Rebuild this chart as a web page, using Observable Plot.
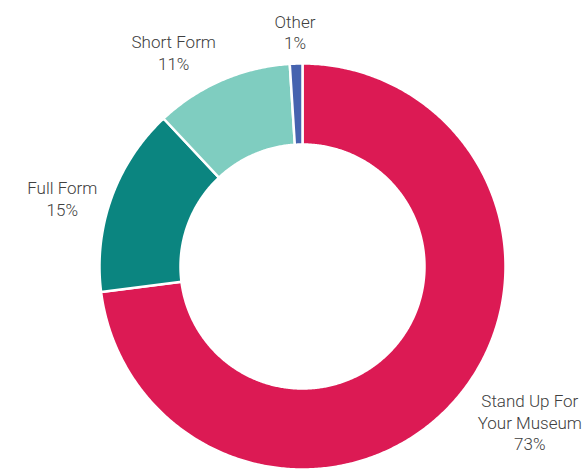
<!DOCTYPE html>
<html><head><meta charset="utf-8">
<script src="https://cdn.jsdelivr.net/npm/d3@7"></script>
<script src="https://cdn.jsdelivr.net/npm/@observablehq/plot@0.6"></script>
<style>html,body{margin:0;padding:0;background:#fff}</style>
</head><body><div id="chart"></div>
<script>
// ---- data ----
const categories = ["Stand Up For Your Museum", "Full Form", "Short Form", "Other"];
const labelLines = [["Stand Up For", "Your Museum"], ["Full Form"], ["Short Form"], ["Other"]];
const values = [73, 15, 11, 1];
const colors = ["#DC1A54", "#0B8580", "#7FCDC0", "#4663AF"];

// ---- layout ----
const W = 586, H = 470;
const cx = 302, cy = 266;      // donut centre in px
const R = 203, r0 = 122;       // outer / inner radius
const fontSize = 17, lineH = 21.5;
const fontFamily = "Roboto, 'Open Sans', sans-serif";
const fontWeight = 300;

const total = d3.sum(values);
const pie = d3.pie().sort(null).value(d => d)(values);

// slice polygons
const pts = [];
pie.forEach((p, i) => {
  const a0 = p.startAngle, a1 = p.endAngle;
  const n = Math.max(2, Math.ceil((a1 - a0) / (Math.PI / 360)));
  for (let k = 0; k <= n; k++) {
    const a = a0 + (a1 - a0) * k / n;
    pts.push({cat: categories[i], x: R * Math.sin(a), y: -R * Math.cos(a)});
  }
  for (let k = n; k >= 0; k--) {
    const a = a0 + (a1 - a0) * k / n;
    pts.push({cat: categories[i], x: r0 * Math.sin(a), y: -r0 * Math.cos(a)});
  }
});

// measure text
const ctx = document.createElement("canvas").getContext("2d");
ctx.font = `${fontWeight} ${fontSize}px ${fontFamily}`;

// labels placed just outside the ring at each slice's mid angle, slid along the ring to fit
const margin = 16;
const labels = pie.map((p, i) => {
  const mid = (p.startAngle + p.endAngle) / 2;
  const pct = Math.round(values[i] / total * 100) + "%";
  const lines = [...labelLines[i], pct];
  const w = d3.max(lines, s => ctx.measureText(s).width);
  const h = lines.length * lineH;
  const g = R + 15;
  const place = a => {
    const s = Math.sin(a), c = Math.cos(a);
    const x = g * s + (Math.abs(s) > 0.15 ? Math.sign(s) * w / 2 : s * w / 2);
    const y = -g * c - 0.8 * h / 2 * Math.max(-1, Math.min(1, 2 * c - 1));
    return {x, y};
  };
  const fits = ({x, y}) => x - w / 2 >= -cx && x + w / 2 <= W - cx &&
    y - h / 2 >= -cy + 2 && y + h / 2 <= H - cy - margin;
  let best = place(mid);
  if (!fits(best)) {
    for (let d = 0.005; d < 0.6; d += 0.005) {
      const a = place(mid - d), b = place(mid + d);
      if (fits(a)) { best = a; break; }
      if (fits(b)) { best = b; break; }
    }
  }
  return {x: best.x, y: best.y, text: lines.join("\n")};
});

const chart = Plot.plot({
  width: W, height: H,
  margin: 0,
  x: {domain: [-cx, W - cx], range: [0, W], axis: null},
  y: {domain: [-cy, H - cy], range: [0, H], axis: null},
  color: {domain: categories, range: colors},
  style: {fontFamily, background: "#fff"},
  marks: [
    Plot.line(pts, {x: "x", y: "y", z: "cat", fill: "cat", stroke: "#fff", strokeWidth: 2.5, curve: "linear-closed"}),
    Plot.text(labels, {x: "x", y: "y", text: "text", textAnchor: "middle", lineAnchor: "middle",
      lineHeight: lineH / fontSize, fontSize, fontWeight, fill: "#404040"})
  ]
});
document.getElementById("chart").appendChild(chart);
</script>
</body></html>
